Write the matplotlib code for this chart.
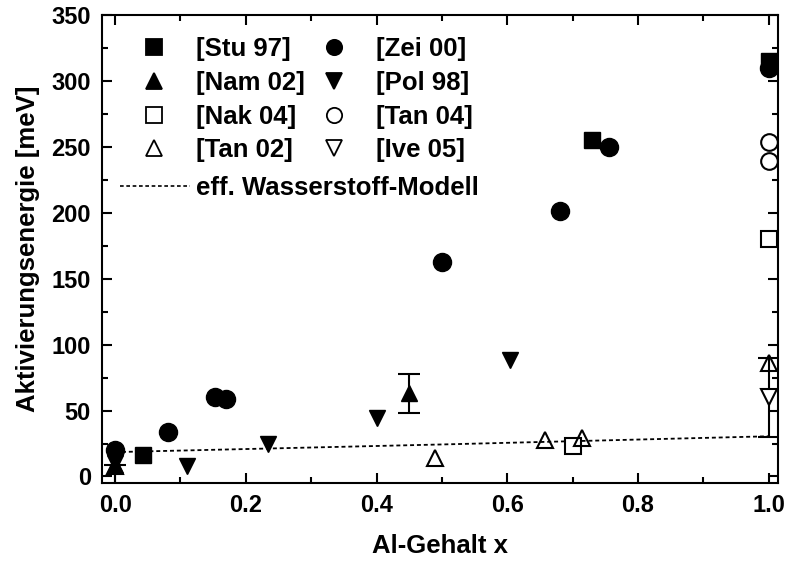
import matplotlib.pyplot as plt
from matplotlib.ticker import MultipleLocator
from matplotlib.lines import Line2D

plt.rcParams['font.family'] = ['Liberation Sans', 'DejaVu Sans']
plt.rcParams['font.weight'] = 'bold'
plt.rcParams['axes.labelweight'] = 'bold'
plt.rcParams['font.size'] = 17

# data
stu_x = [0.043, 0.73, 1.0]
stu_y = [16, 255, 315]
zei_x = [0.0, 0.081, 0.153, 0.169, 0.50, 0.68, 0.755, 1.0]
zei_y = [20, 34, 60, 59, 163, 201, 250, 310]
nam_x = [0.0, 0.45]
nam_y = [9, 63]
nam_err_lo = [15, 15]
nam_err_hi = [0, 15]
pol_x = [0.0, 0.11, 0.234, 0.40, 0.604]
pol_y = [10, 8, 25, 44, 88]
nak_x = [0.70, 1.0]
nak_y = [23, 180]
tan04_x = [1.0, 1.0]
tan04_y = [254, 239]
tan02_x = [0.0, 0.489, 0.657, 0.715, 1.0]
tan02_y = [8, 14, 28, 29, 86]
ive_x = [1.0]
ive_y = [60]
ive_err = [30]
model_x = [0.0, 0.5, 1.0]
model_y = [18.5, 24.3, 30.5]

fig = plt.figure(figsize=(7.85, 5.67), dpi=100)
ax = fig.add_axes([0.130, 0.148, 0.861, 0.8255])

ms = 12
dash = (0, (2.2, 1.6))
ax.plot(model_x, model_y, color='black', lw=1.3, linestyle=dash, zorder=1)
ax.errorbar(ive_x, ive_y, yerr=ive_err, fmt='none', ecolor='black', elinewidth=1.5,
            capsize=8, capthick=1.5, zorder=2)
ax.errorbar(nam_x, nam_y, yerr=[nam_err_lo, nam_err_hi], fmt='none', ecolor='black',
            elinewidth=1.5, capsize=8, capthick=1.5, zorder=2)

ax.plot(stu_x, stu_y, 's', color='black', ms=ms, ls='none', zorder=3)
ax.plot(zei_x, zei_y, 'o', color='black', ms=ms + 1, ls='none', zorder=3)
ax.plot(nam_x, nam_y, '^', color='black', ms=ms, ls='none', zorder=3)
ax.plot(pol_x, pol_y, 'v', color='black', ms=ms, ls='none', zorder=3)
ax.plot(nak_x, nak_y, 's', mfc='white', mec='black', mew=1.5, ms=ms, ls='none', zorder=3)
ax.plot(tan04_x, tan04_y, 'o', mfc='white', mec='black', mew=1.5, ms=ms, ls='none', zorder=3)
ax.plot(tan02_x, tan02_y, '^', mfc='none', mec='black', mew=1.5, ms=ms, ls='none', zorder=4)
ax.plot(ive_x, ive_y, 'v', mfc='white', mec='black', mew=1.5, ms=ms, ls='none', zorder=3)

ax.set_xlim(-0.02, 1.014)
ax.set_ylim(-5, 350)
ax.xaxis.set_major_locator(MultipleLocator(0.2))
ax.xaxis.set_minor_locator(MultipleLocator(0.1))
ax.yaxis.set_major_locator(MultipleLocator(50))
ax.yaxis.set_minor_locator(MultipleLocator(25))
ax.xaxis.set_major_formatter(plt.FuncFormatter(lambda v, p: f'{v:.1f}'))
ax.tick_params(which='both', direction='in', top=True, right=True, width=1.5)
ax.tick_params(which='major', length=7, pad=8)
ax.tick_params(which='minor', length=4)
for s in ax.spines.values():
    s.set_linewidth(1.5)

ax.set_xlabel('Al-Gehalt x', labelpad=12, fontsize=18.5)
ax.set_ylabel('Aktivierungsenergie [meV]', labelpad=8, fontsize=18.5)

# legend: markers in two columns, model line below
order = [
    ('s', 'black', '[Stu 97]'),
    ('^', 'black', '[Nam 02]'),
    ('s', 'white', '[Nak 04]'),
    ('^', 'white', '[Tan 02]'),
    ('o', 'black', '[Zei 00]'),
    ('v', 'black', '[Pol 98]'),
    ('o', 'white', '[Tan 04]'),
    ('v', 'white', '[Ive 05]'),
]
handles = [Line2D([], [], marker=m, ls='none', mfc=c, mec='black', mew=1.3, ms=11)
           for m, c, _ in order]
labels = [l for _, _, l in order]
leg1 = ax.legend(handles, labels, ncol=2, frameon=False, loc='upper left',
                 bbox_to_anchor=(0.039, 0.975), handlelength=1.2, handletextpad=1.05,
                 columnspacing=0.5, labelspacing=0.38, borderaxespad=0, fontsize=18.5)
ax.add_artist(leg1)
line_h = Line2D([], [], color='black', lw=1.2, linestyle=dash)
ax.legend([line_h], ['eff. Wasserstoff-Modell'], frameon=False, loc='upper left',
          bbox_to_anchor=(0.012, 0.677), handlelength=2.7, handletextpad=0.25,
          borderaxespad=0, fontsize=18.5)

fig.savefig('out.png', dpi=100)
